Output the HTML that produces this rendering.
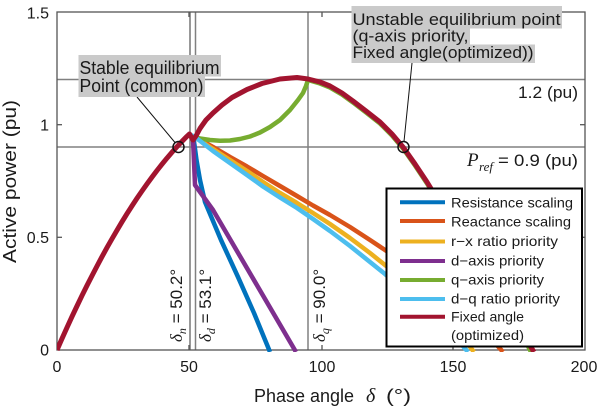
<!DOCTYPE html>
<html>
<head>
<meta charset="utf-8">
<style>
  html,body{margin:0;padding:0;background:#fff;}
  svg{display:block;}
  .t{font-family:"Liberation Sans","DejaVu Sans",sans-serif;fill:#1a1a1a;}
  .s{font-family:"Liberation Serif","DejaVu Serif",serif;font-style:italic;fill:#1a1a1a;}
</style>
</head>
<body>
<svg width="600" height="408" viewBox="0 0 600 408" xmlns="http://www.w3.org/2000/svg">
  <defs>
    <clipPath id="pa"><rect x="57" y="12" width="528" height="340"/></clipPath>
  </defs>
  <rect width="600" height="408" fill="#fff"/>

  <!-- reference lines -->
  <g stroke="#808080" stroke-width="1.5" fill="none">
    <line x1="57" y1="79.5" x2="585" y2="79.5"/>
    <line x1="57" y1="147" x2="585" y2="147"/>
    <line x1="190" y1="12" x2="190" y2="350" stroke="#777"/>
    <line x1="195.5" y1="12" x2="195.5" y2="350"/>
    <line x1="308" y1="12" x2="308" y2="350"/>
  </g>

  <!-- axes box -->
  <g stroke="#555" stroke-width="1.3" fill="none">
    <rect x="57" y="12" width="528" height="338"/>
    <line x1="57" y1="124.7" x2="62" y2="124.7"/>
    <line x1="57" y1="237.3" x2="62" y2="237.3"/>
    <line x1="585" y1="124.7" x2="580" y2="124.7"/>
    <line x1="585" y1="237.3" x2="580" y2="237.3"/>
    <line x1="189" y1="350" x2="189" y2="345"/>
    <line x1="322" y1="350" x2="322" y2="345"/>
    <line x1="453" y1="350" x2="453" y2="345"/>
    <line x1="189" y1="12" x2="189" y2="17"/>
    <line x1="322" y1="12" x2="322" y2="17"/>
    <line x1="453" y1="12" x2="453" y2="17"/>
  </g>

  <!-- tick labels -->
  <g class="t" font-size="16" text-anchor="end">
    <text x="49" y="18.7">1.5</text>
    <text x="49" y="130.4">1</text>
    <text x="49" y="243">0.5</text>
    <text x="49" y="355.7">0</text>
  </g>
  <g class="t" font-size="16" text-anchor="middle">
    <text x="57" y="372">0</text>
    <text x="189" y="372">50</text>
    <text x="322" y="372">100</text>
    <text x="453" y="372">150</text>
    <text x="584" y="372">200</text>
  </g>

  <!-- axis labels -->
  <text class="t" font-size="18" x="254" y="402" textLength="100" lengthAdjust="spacingAndGlyphs">Phase angle</text>
  <text class="s" font-size="20" x="366" y="402">δ</text>
  <text class="t" font-size="18" x="386" y="402" textLength="25" lengthAdjust="spacingAndGlyphs">(°)</text>
  <text class="t" font-size="18" transform="translate(16,263) rotate(-90)" textLength="163" lengthAdjust="spacingAndGlyphs">Active power (pu)</text>

  <!-- delta labels -->
  <text font-size="17" transform="translate(182,342) rotate(-90)"><tspan class="s">δ</tspan><tspan class="s" font-size="12" dy="4">n</tspan><tspan class="t" dy="-4"> = 50.2°</tspan></text>
  <text font-size="17" transform="translate(211,342) rotate(-90)"><tspan class="s">δ</tspan><tspan class="s" font-size="12" dy="4">d</tspan><tspan class="t" dy="-4"> = 53.1°</tspan></text>
  <text font-size="17" transform="translate(325,342) rotate(-90)"><tspan class="s">δ</tspan><tspan class="s" font-size="12" dy="4">q</tspan><tspan class="t" dy="-4"> = 90.0°</tspan></text>

  <!-- curves -->
  <g clip-path="url(#pa)" fill="none" stroke-linejoin="round" stroke-width="4.5">
    <polyline stroke="#0072BD" points="193,137 194.5,145 196.5,160 200,180 205,202 221,240 238,277 254,313 270,352"/>
    <polyline stroke="#D95319" points="193,136 213,147 230,157 247,166.5 263,176 280,186 297,196 313,205.5 330,215 350,227 370,240 385,250 400,260 420,274 440,290 460,307 480,326 503,352"/>
    <polyline stroke="#EDB120" points="193,136 213,149 230,160 247,171 263,182 280,193 297,203 313,213 330,224 350,238 370,253 385,265 400,277 420,295 440,314 460,334 474,352"/>
    <polyline stroke="#7E2F8E" points="193,139 195,185 213,210 296,352"/>
    <polyline stroke="#77AC30" points="195,137 200,138.5 210,140 220,140.7 230,140.5 240,139 250,136.5 260,132.5 270,127 280,120 290,110 298,100 303,93 306,86 308,80 320,83.5 330,87.5 342,94.5 353,102.5 366,112.5 380,123.5 392,135.5 403,148.5 415,165.5 427,183.5 438,201.5 450,220.5 462,239.5 475,259.5 488,279.5 500,299 512,318 522,334.5 531,352"/>
    <polyline stroke="#4DBEEE" points="191,135 195,137 213,151 230,163 247,175 263,186.5 280,197.5 297,208 313,219 330,231 350,246 370,262 385,274 400,287 420,304 440,323 455,337 468,352"/>
    <polyline stroke="#A2142F" stroke-width="5" points="57,350 62,338.6 67,327.5 72,316.6 77,306 82,295.6 87,285.5 92,275.7 97,266.1 102,256.7 107,247.6 112,238.8 117,230.2 122,221.8 127,213.7 132,205.9 137,198.3 142,191 147,183.9 152,177.1 157,170.5 162,164.2 167,158.1 172,152.3 177,146.7 182,141.4 187,136.3 189.5,134 193,140 196,136 200,128.5 206,120 213,113 222,105 232,97.5 247,89.5 262,83.5 280,79 297,77.5 308,79 320,82 330,86 342,93 353,101 366,111 380,122 392,134 403,147 415,164 427,182 438,200 450,218.5 462,237.5 475,257.5 488,277.5 500,297 512,316 522,332.5 534,352"/>
  </g>

  <!-- equilibrium circles -->
  <circle cx="178.5" cy="147" r="5.5" fill="none" stroke="#111" stroke-width="1.5"/>
  <circle cx="403.5" cy="147" r="5.5" fill="none" stroke="#111" stroke-width="1.5"/>
  <line x1="137" y1="97" x2="175" y2="142.5" stroke="#111" stroke-width="1"/>
  <line x1="412" y1="63" x2="404" y2="141.5" stroke="#111" stroke-width="1"/>

  <!-- annotation: stable -->
  <rect x="78.5" y="55" width="142.5" height="21.5" fill="#cacaca"/>
  <rect x="78.5" y="76" width="126.5" height="21" fill="#cacaca"/>
  <text class="t" font-size="18" x="79.5" y="74" textLength="140" lengthAdjust="spacingAndGlyphs">Stable equilibrium</text>
  <text class="t" font-size="18" x="79.5" y="92" textLength="124" lengthAdjust="spacingAndGlyphs">Point (common)</text>

  <!-- annotation: unstable -->
  <rect x="351.5" y="6" width="210.5" height="22.5" fill="#cacaca"/>
  <rect x="351.5" y="28" width="118.5" height="17" fill="#cacaca"/>
  <rect x="351.5" y="44.5" width="183.5" height="18.5" fill="#cacaca"/>
  <text class="t" font-size="17" x="352.5" y="25" textLength="208" lengthAdjust="spacingAndGlyphs">Unstable equilibrium point</text>
  <text class="t" font-size="17" x="352.5" y="41.5" textLength="116" lengthAdjust="spacingAndGlyphs">(q-axis priority,</text>
  <text class="t" font-size="17" x="352.5" y="58" textLength="181" lengthAdjust="spacingAndGlyphs">Fixed angle(optimized))</text>

  <!-- reference line labels -->
  <text class="t" font-size="17" x="518" y="98" textLength="60" lengthAdjust="spacingAndGlyphs">1.2 (pu)</text>
  <text class="s" font-size="19" x="467" y="166">P</text>
  <text class="s" font-size="13" x="479" y="171">ref</text>
  <text class="t" font-size="17" x="498" y="166" textLength="80" lengthAdjust="spacingAndGlyphs">= 0.9 (pu)</text>

  <!-- legend -->
  <rect x="386.5" y="188.5" width="195.5" height="158" fill="#fff" stroke="#000" stroke-width="2"/>
  <g stroke-width="4">
    <line x1="400" y1="202.3" x2="445" y2="202.3" stroke="#0072BD"/>
    <line x1="400" y1="221" x2="445" y2="221" stroke="#D95319"/>
    <line x1="400" y1="241.5" x2="445" y2="241.5" stroke="#EDB120"/>
    <line x1="400" y1="261" x2="445" y2="261" stroke="#7E2F8E"/>
    <line x1="400" y1="280" x2="445" y2="280" stroke="#77AC30"/>
    <line x1="400" y1="299" x2="445" y2="299" stroke="#4DBEEE"/>
    <line x1="400" y1="316.7" x2="445" y2="316.7" stroke="#A2142F"/>
  </g>
  <g class="t" font-size="14">
    <text x="451" y="207.5" textLength="122" lengthAdjust="spacingAndGlyphs">Resistance scaling</text>
    <text x="451" y="226.5" textLength="120" lengthAdjust="spacingAndGlyphs">Reactance scaling</text>
    <text x="451" y="246" textLength="107" lengthAdjust="spacingAndGlyphs">r−x ratio priority</text>
    <text x="451" y="265.5" textLength="93" lengthAdjust="spacingAndGlyphs">d−axis priority</text>
    <text x="451" y="284.5" textLength="93" lengthAdjust="spacingAndGlyphs">q−axis priority</text>
    <text x="451" y="303.5" textLength="109" lengthAdjust="spacingAndGlyphs">d−q ratio priority</text>
    <text x="451" y="321.5" textLength="73" lengthAdjust="spacingAndGlyphs">Fixed angle</text>
    <text x="451" y="340" textLength="73" lengthAdjust="spacingAndGlyphs">(optimized)</text>
  </g>
</svg>
</body>
</html>
